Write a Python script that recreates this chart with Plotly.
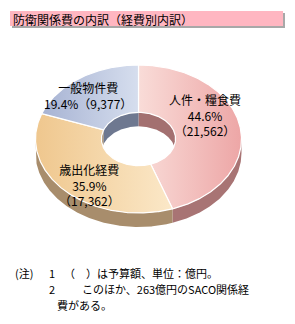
import numpy as np
import plotly.graph_objects as go

# ---- data ----
categories = ["人件・糧食費", "歳出化経費", "一般物件費"]
amounts = [21562, 17362, 9377]          # 億円
percents = ["44.6%", "35.9%", "19.4%"]
amount_labels = ["21,562", "17,362", "9,377"]

title_text = "防衛関係費の内訳（経費別内訳）"
notes = [
    ("(注)", "1", "（　）は予算額、単位：億円。"),
    ("", "2", "このほか、263億円のSACO関係経"),
    ("", "", "費がある。"),
]

# ---- styles / geometry (pixel space) ----
W, H = 295, 324
CX, CY = 138.5, 139.0
A_OUT, B_OUT = 103.0, 74.0
R_IN = 0.36
T = 14.0
top_colors = [["#f9dcd8", "#eda6a6"], ["#efc78e", "#fbe8c8"], ["#a7b3d3", "#d6deee"]]
wall_colors = ["#a87474", "#a88d6c", "#6e7890"]
inner_wall_colors = ["#a37070", "#a88d6c", "#6e7890"]
FONT = "Noto Sans CJK JP"

total = sum(amounts)
bounds = [0.0]
for v in amounts:
    bounds.append(bounds[-1] + 360.0 * v / total)


def pt(theta_deg, r, dy=0.0):
    t = np.radians(theta_deg)
    return CX + A_OUT * r * np.sin(t), CY - B_OUT * r * np.cos(t) + dy


def arc(t1, t2, r, dy=0.0):
    n = max(int(abs(t2 - t1) * 2) + 2, 3)
    th = np.linspace(t1, t2, n)
    return pt(th, r, dy)


fig = go.Figure()


def poly(x, y, color, line_color=None, width=0, grad=None):
    kw = dict(fill="toself", fillcolor=color)
    if grad is not None:
        kw = dict(fill="toself", fillgradient=dict(type="horizontal",
                  colorscale=[[0, grad[0]], [1, grad[1]]]))
    fig.add_trace(go.Scatter(
        x=list(x), y=list(y), mode="lines",
        line=dict(color=line_color or color, width=width),
        hoverinfo="skip", showlegend=False, **kw))


# outer walls (front half: 90..270 deg)
for i in range(len(amounts)):
    t1, t2 = max(bounds[i], 90), min(bounds[i + 1], 270)
    if t2 > t1:
        xs1, ys1 = arc(t1, t2, 1.0)
        xs2, ys2 = arc(t2, t1, 1.0, T)
        poly(np.r_[xs1, xs2], np.r_[ys1, ys2], wall_colors[i])

# inner walls (back half)
for i in range(len(amounts)):
    for lo, hi in ((0, 90), (270, 360)):
        t1, t2 = max(bounds[i], lo), min(bounds[i + 1], hi)
        if t2 > t1:
            xs1, ys1 = arc(t1, t2, R_IN)
            xs2, ys2 = arc(t2, t1, R_IN, T)
            poly(np.r_[xs1, xs2], np.r_[ys1, ys2], inner_wall_colors[i])

# top faces
for i in range(len(amounts)):
    xs1, ys1 = arc(bounds[i], bounds[i + 1], 1.0)
    xs2, ys2 = arc(bounds[i + 1], bounds[i], R_IN)
    poly(np.r_[xs1, xs2, xs1[:1]], np.r_[ys1, ys2, ys1[:1]], top_colors[i][0],
         line_color="white", width=1.2, grad=top_colors[i])

annotations = []
# slice labels
label_pos = [(205, 115), (89, 185), (88, 95)]
label_texts = [
    f"{categories[0]}<br>{percents[0]}<br>（{amount_labels[0]}）",
    f"{categories[1]}<br>{percents[1]}<br>（{amount_labels[1]}）",
    f"{categories[2]}<br>{percents[2]}（{amount_labels[2]}）",
]
for (x, y), txt in zip(label_pos, label_texts):
    annotations.append(dict(x=x, y=y, xref="x", yref="y", text=txt, showarrow=False,
                            font=dict(family=FONT, size=12, color="black"),
                            align="center", xanchor="center", yanchor="middle"))

# title
annotations.append(dict(x=11, y=19, xref="x", yref="y", text=title_text, showarrow=False,
                        font=dict(family=FONT, size=12, color="black"),
                        xanchor="left", yanchor="middle"))

# notes
NOTE_SIZE = 11
note_y = [273, 289, 305]
for (a, b, c), y in zip(notes, note_y):
    if a:
        annotations.append(dict(x=13, y=y, xref="x", yref="y", text=a, showarrow=False,
                                font=dict(family=FONT, size=NOTE_SIZE, color="black"),
                                xanchor="left", yanchor="middle"))
    if b:
        annotations.append(dict(x=47, y=y, xref="x", yref="y", text=b, showarrow=False,
                                font=dict(family=FONT, size=NOTE_SIZE, color="black"),
                                xanchor="left", yanchor="middle"))
    cx0 = 62 if b == "1" else (80 if b == "2" else 55)
    annotations.append(dict(x=cx0, y=y, xref="x", yref="y", text=c, showarrow=False,
                            font=dict(family=FONT, size=NOTE_SIZE, color="black"),
                            xanchor="left", yanchor="middle"))

shapes = [
    dict(type="rect", xref="x", yref="y", x0=12, y0=13, x1=285, y1=28,
         fillcolor="#a8a8a8", line=dict(width=0), layer="below"),
    dict(type="rect", xref="x", yref="y", x0=10, y0=11, x1=283, y1=26,
         fillcolor="#ffb6c1", line=dict(width=0), layer="below"),
]

fig.update_layout(
    width=W, height=H, autosize=False,
    margin=dict(l=0, r=0, t=0, b=0),
    paper_bgcolor="white", plot_bgcolor="white",
    xaxis=dict(range=[0, W], visible=False, fixedrange=True),
    yaxis=dict(range=[H, 0], visible=False, fixedrange=True),
    annotations=annotations, shapes=shapes,
)

fig.write_html("out.html", config={"displayModeBar": False})
